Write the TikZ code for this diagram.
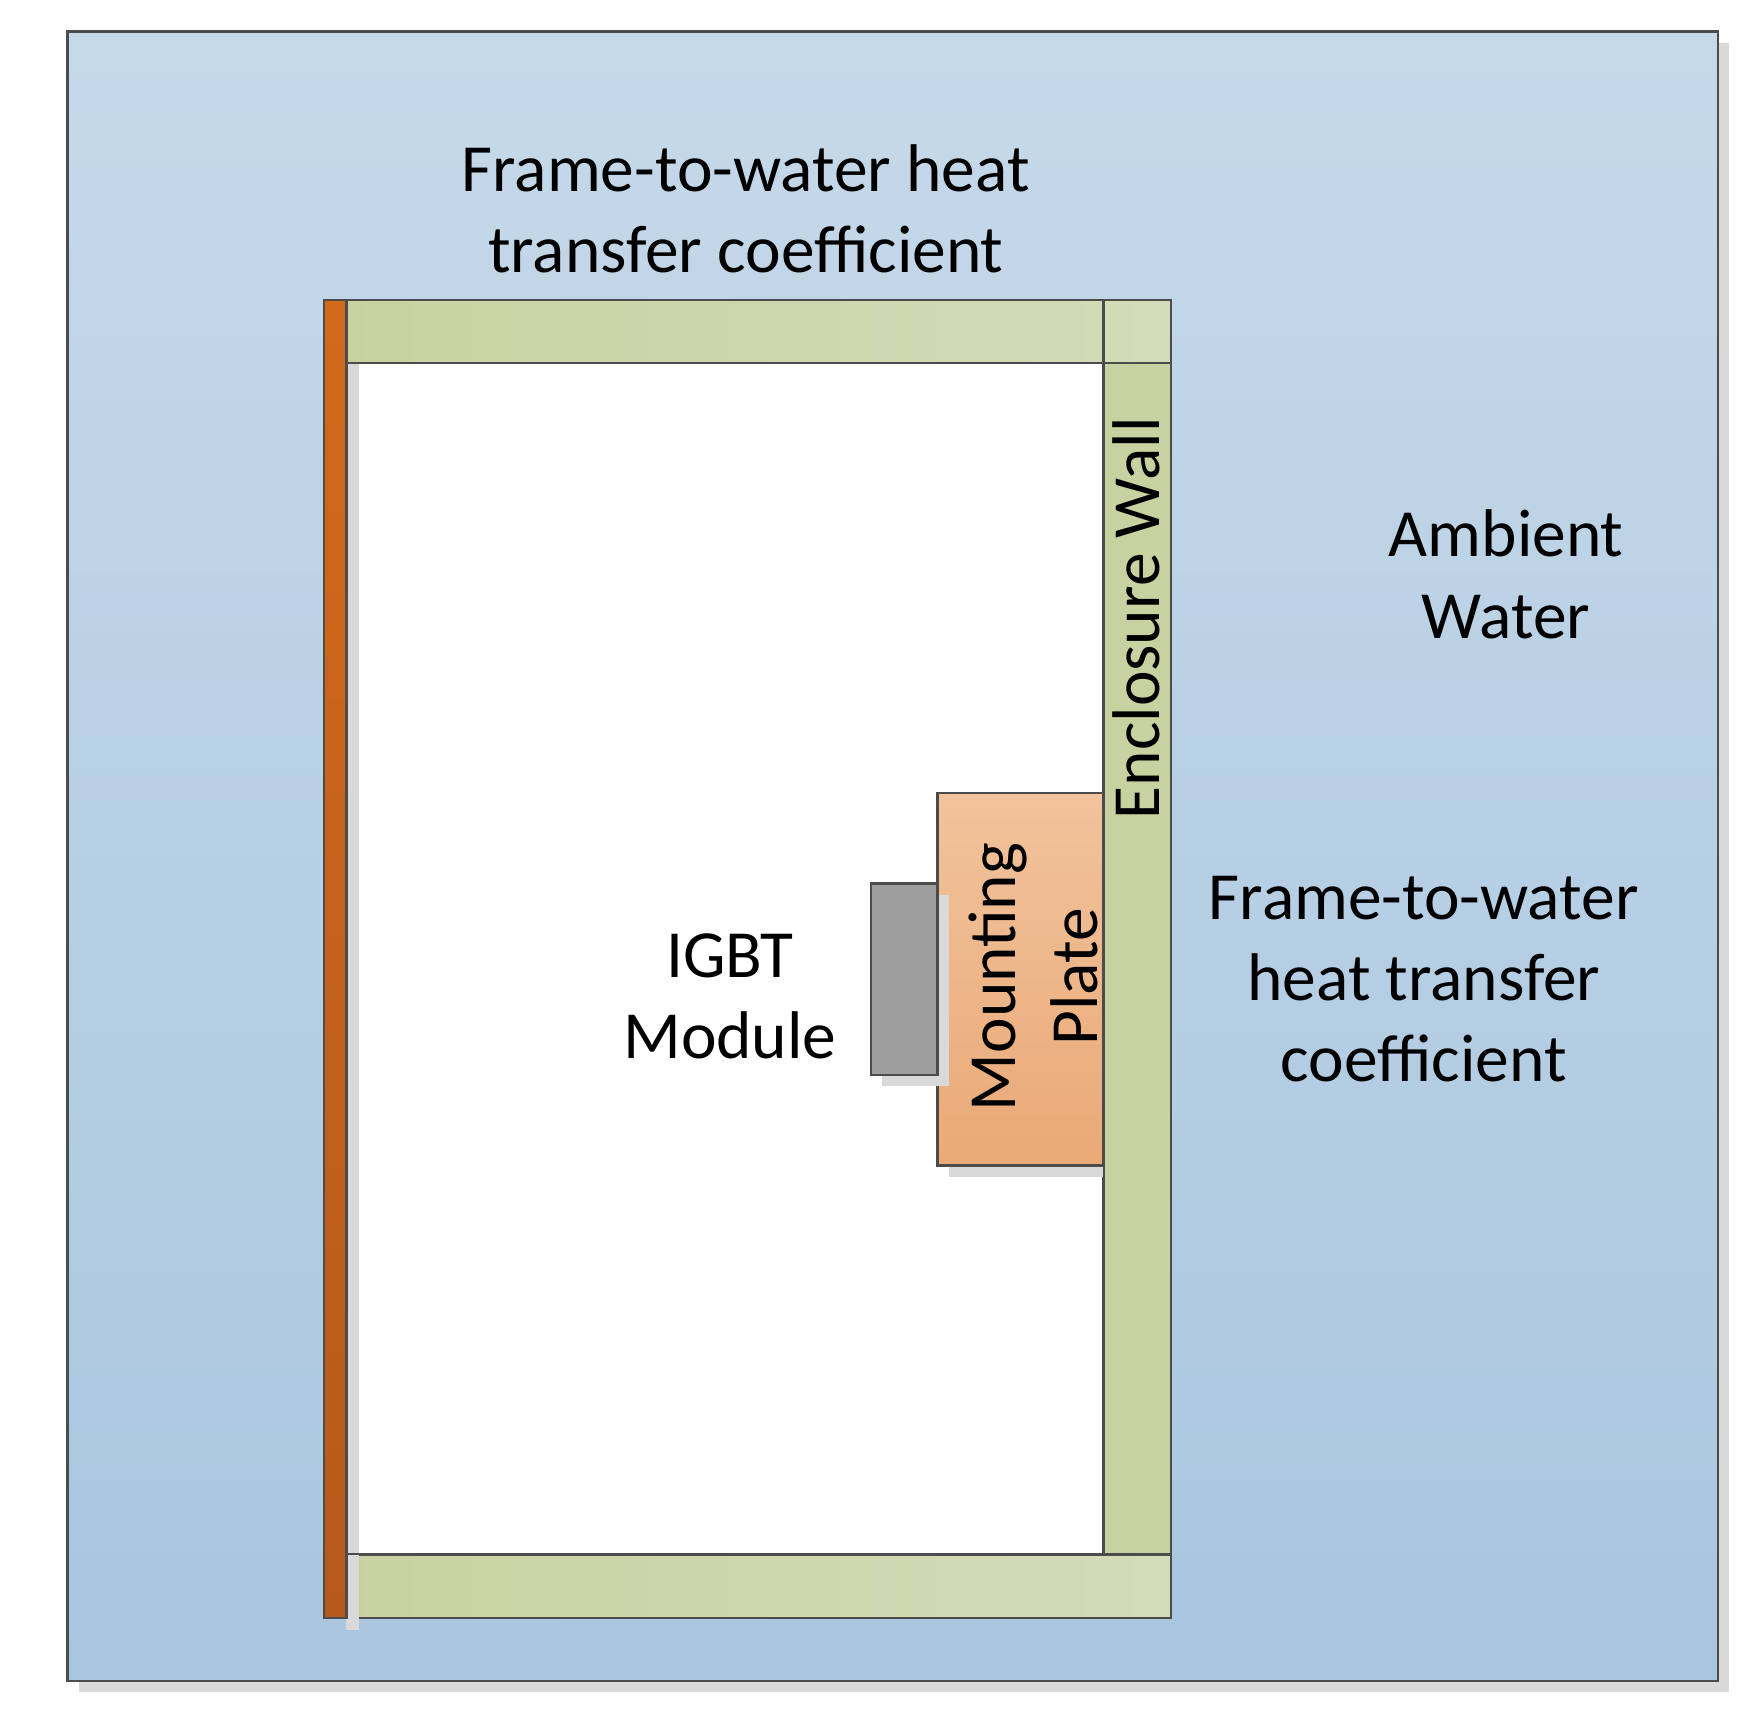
\documentclass[tikz,border=0pt]{standalone}
\usepackage{fontspec}
\setmainfont{Carlito}
\usetikzlibrary{positioning}
\definecolor{watertop}{HTML}{C6D9E9}
\definecolor{waterbot}{HTML}{A9C6DF}
\definecolor{wallA}{HTML}{C8D2A0}
\definecolor{wallB}{HTML}{D3DBB8}
\definecolor{stripA}{HTML}{D26A1C}
\definecolor{stripB}{HTML}{B65A1A}
\definecolor{plateA}{HTML}{F1C39C}
\definecolor{plateB}{HTML}{EAA977}
\definecolor{dropgray}{HTML}{D9D9D9}
\tikzset{
  part/.style={draw=black!70, line width=0.6pt},
  lbl/.style={font=\fontsize{17}{20.5}\selectfont, align=center}
}
\begin{document}
\begin{tikzpicture}[x=0.01cm, y=-0.01cm]
    \useasboundingbox (0,0) rectangle (1561,1525);
    % water
    \fill[dropgray] (70,38) rectangle (1533,1500);
    \shade[part, top color=watertop, bottom color=waterbot] (60,28) rectangle (1523,1490);
    % interior
    \fill[white] (307,322) rectangle (978,1378);
    \fill[dropgray] (307,322) rectangle (318,1445);
    % enclosure walls
    \shade[part, left color=wallA, right color=wallB] (287,266) rectangle (1038,322);
    \shade[part, left color=wallA, right color=wallB] (287,1378) rectangle (1038,1434);
    \fill[dropgray] (307,1378) rectangle (318,1445);
    \shade[part, left color=wallA, right color=wallA] (978,322) rectangle (1038,1378);
    \draw[part] (978,266) -- (978,322);
    % frame strip
    \shade[part, top color=stripA, bottom color=stripB] (287,266) rectangle (307,1434);
    % mounting plate
    \fill[dropgray] (841,713) rectangle (978,1043);
    \shade[part, top color=plateA, bottom color=plateB] (831,703) rectangle (978,1033);
    % igbt
    \fill[dropgray] (782,793) rectangle (841,963);
    \filldraw[part, fill=black!38] (772,783) rectangle (831,953);
    % labels
    \node[lbl] (htop) at (661,185) {Frame-to-water heat\\transfer coefficient};
    \node[lbl] (amb) at (1335,509) {Ambient\\Water};
    \node[lbl] (hright) at (1262,868) {Frame-to-water\\heat transfer\\coefficient};
    \node[lbl] (igbt) at (647,883) {IGBT\\Module};
    \node[lbl, rotate=90] (plate) at (916,866) {Mounting\\Plate};
    \node[lbl, rotate=90] (wall) at (1007,548) {Enclosure Wall};
\end{tikzpicture}
\end{document}
